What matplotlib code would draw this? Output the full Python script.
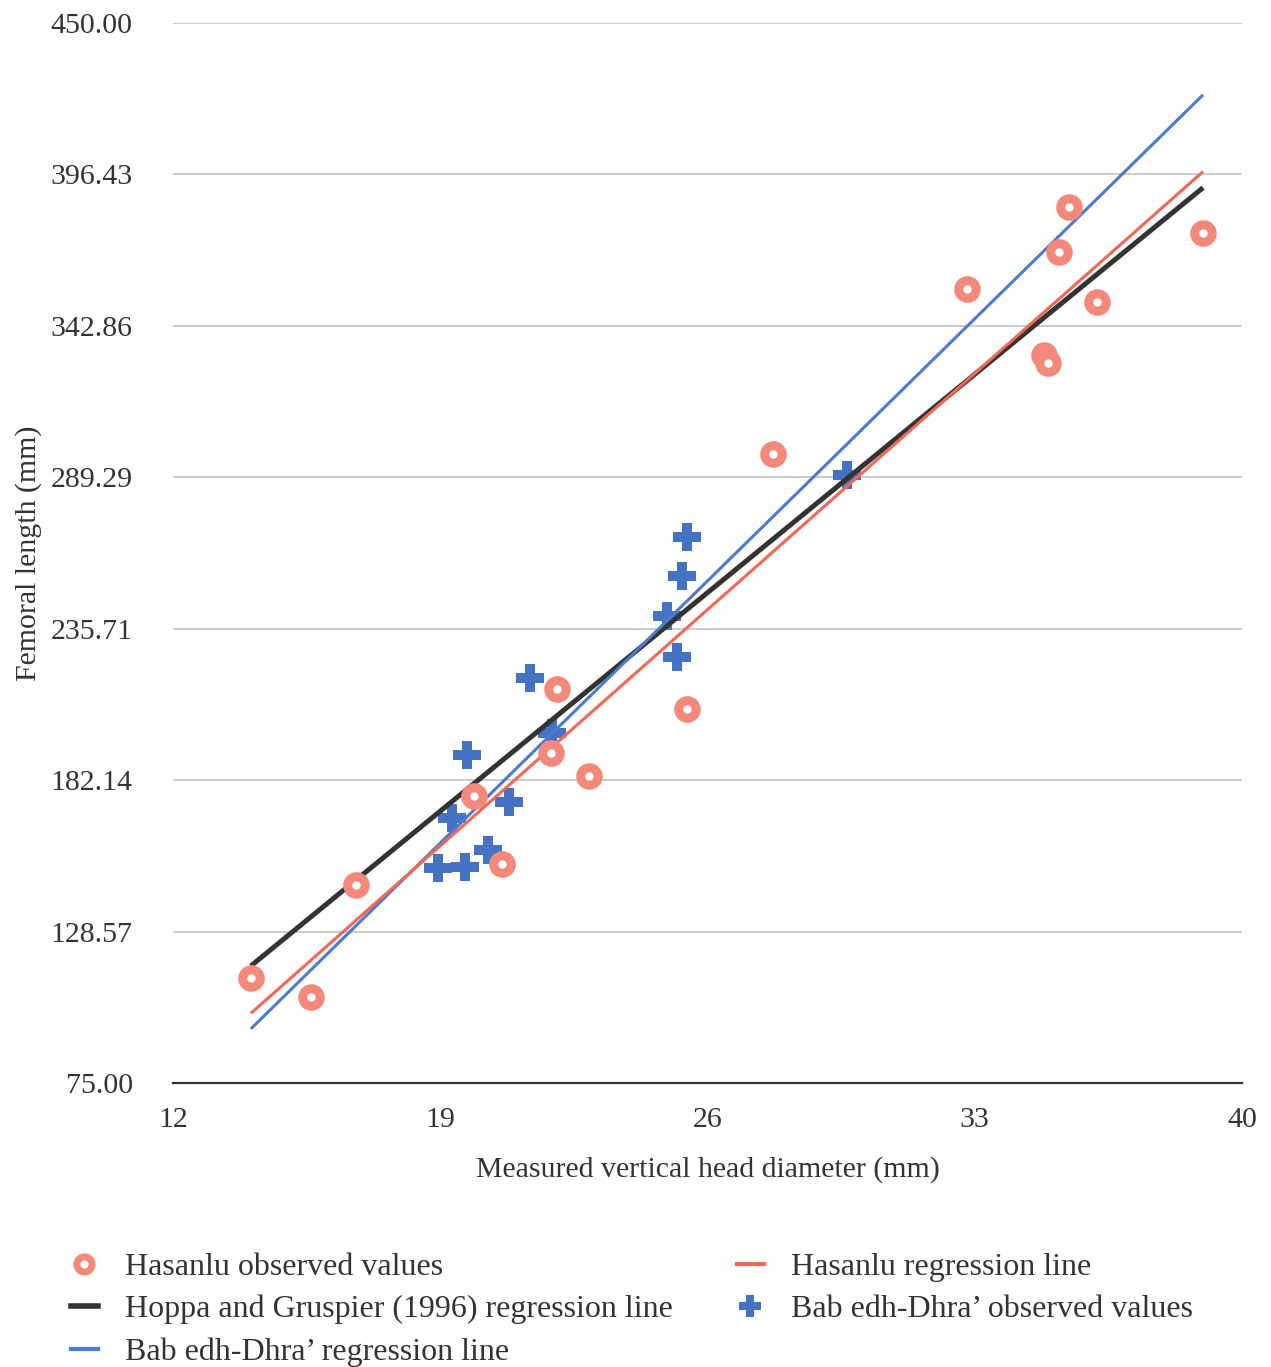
import numpy as np
import matplotlib
matplotlib.use('Agg')
import matplotlib.pyplot as plt
from matplotlib.lines import Line2D

plt.rcParams['font.family'] = ['Liberation Serif', 'DejaVu Serif']

# Hasanlu observed values (head diameter mm, femoral length mm)
hasanlu_x = [14.04, 15.61, 16.79, 19.88, 20.62, 21.90, 22.06, 22.90, 25.46, 27.71,
             32.80, 34.81, 34.92, 35.21, 35.47, 36.20, 38.98]
hasanlu_y = [112.1, 105.4, 145.0, 176.5, 152.5, 191.7, 214.4, 183.6, 207.3, 297.5,
             355.9, 332.5, 329.7, 369.0, 384.9, 351.3, 375.7]

# Bab edh-Dhra' observed values
bab_x = [18.94, 19.65, 20.25, 19.31, 20.80, 19.70, 21.93, 21.35,
         25.20, 24.94, 25.33, 25.46, 29.65]
bab_y = [151.1, 151.4, 157.4, 168.7, 174.4, 191.0, 198.8, 218.3,
         225.7, 240.2, 254.3, 268.1, 290.1]

# regression lines: (slope, intercept)
hoppa_fit = (11.04, -38.6)
hasanlu_fit = (11.94, -68.0)
bab_fit = (13.25, -91.9)

yticks = [75.00, 128.57, 182.14, 235.71, 289.29, 342.86, 396.43, 450.00]
xticks = [12, 19, 26, 33, 40]

text_col = '#333333'
circ_col = '#F4897B'
red_col = '#F26855'
blue_col = '#4A7BD0'
black_col = '#333333'

fig = plt.figure(figsize=(12.71, 13.67), dpi=100)
ax = fig.add_axes([0.1361, 0.2078, 0.9772 - 0.1361, 0.9832 - 0.2078])

for yv in yticks[1:]:
    ax.axhline(yv, color='#c8c8c8', lw=1.3, zorder=0)

xr = np.array([min(hasanlu_x), max(hasanlu_x)])

ax.scatter(bab_x, bab_y, marker='P', s=400, color='#4472C4', linewidths=0, zorder=2)
ax.plot(xr, hoppa_fit[0] * xr + hoppa_fit[1], color=black_col, lw=3.6, zorder=3,
        solid_capstyle='butt')
ax.plot(xr, bab_fit[0] * xr + bab_fit[1], color=blue_col, lw=2.2, zorder=3,
        solid_capstyle='butt')
ax.plot(xr, hasanlu_fit[0] * xr + hasanlu_fit[1], color=red_col, lw=2.2, zorder=3,
        solid_capstyle='butt')
ax.scatter(hasanlu_x, hasanlu_y, marker='o', s=160, facecolor='white', edgecolor=circ_col,
           linewidths=6.5, zorder=4)

ax.set_xlim(12, 40)
ax.set_ylim(75, 450)
ax.set_xticks(xticks)
ax.set_yticks(yticks)
ax.set_yticklabels(['%.2f' % v for v in yticks])
ax.tick_params(axis='both', length=0, labelsize=21.5, colors=text_col)
ax.tick_params(axis='y', pad=29)
ax.tick_params(axis='x', pad=17)
for s in ['top', 'right', 'left']:
    ax.spines[s].set_visible(False)
ax.spines['bottom'].set_color(black_col)
ax.spines['bottom'].set_linewidth(1.6)

ax.set_xlabel('Measured vertical head diameter (mm)', fontsize=21.5, color=text_col, labelpad=17)
ax.set_ylabel('Femoral length (mm)', fontsize=21.5, color=text_col, labelpad=6)

hs = [
    Line2D([], [], marker='o', ls='none', ms=11, mfc='white', mec=circ_col, mew=5),
    Line2D([], [], color=black_col, lw=4),
    Line2D([], [], color=blue_col, lw=3),
    Line2D([], [], color=red_col, lw=3),
    Line2D([], [], marker='P', ls='none', ms=16, color='#4472C4', mew=0),
]
labels = ['Hasanlu observed values', 'Hoppa and Gruspier (1996) regression line',
          "Bab edh-Dhra\u2019 regression line", 'Hasanlu regression line',
          "Bab edh-Dhra\u2019 observed values"]
leg = fig.legend(hs, labels, loc='upper left', bbox_to_anchor=(0.0555, 0.0835), ncol=2,
                 frameon=False, fontsize=23, handlelength=0.85, handletextpad=0.85,
                 columnspacing=2.0, labelspacing=0.4, borderpad=0, borderaxespad=0)
for t in leg.get_texts():
    t.set_color(text_col)

fig.savefig('out.png', dpi=100)
